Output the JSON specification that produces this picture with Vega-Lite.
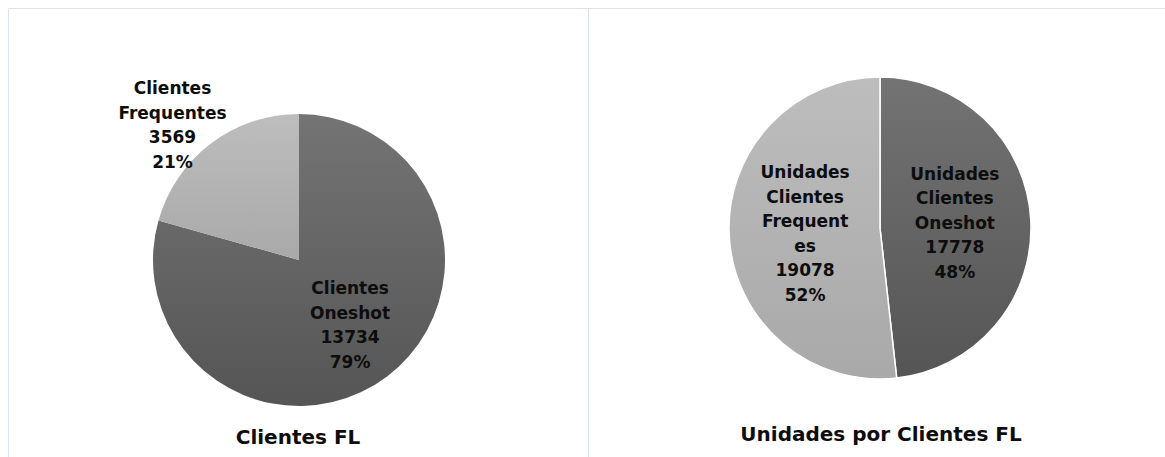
{
  "$schema": "https://vega.github.io/schema/vega-lite/v6.json",
  "padding": {"left": 7, "top": 7, "right": 0, "bottom": 0},
  "spacing": 0,
  "bounds": "flush",
  "background": "white",
  "config": {
    "view": {"stroke": "#dde3ea", "strokeWidth": 1},
    "font": "DejaVu Sans",
    "title": {"font": "DejaVu Sans", "fontWeight": "bold", "fontSize": 20, "color": "#0d0d0d"}
  },
  "datasets": {
    "clientes": [
      {"tipo": "Oneshot", "name": "Clientes\nOneshot", "value": 13734},
      {"tipo": "Frequentes", "name": "Clientes\nFrequentes", "value": 3569}
    ],
    "unidades": [
      {"tipo": "Oneshot", "name": "Unidades\nClientes\nOneshot", "value": 17778},
      {"tipo": "Frequentes", "name": "Unidades\nClientes\nFrequent\nes", "value": 19078}
    ]
  },
  "hconcat": [
    {
      "width": 580,
      "height": 450,
      "view": {"stroke": "#dde3ea", "strokeWidth": 1},
      "title": {"text": "Clientes FL", "orient": "bottom", "offset": -20, "baseline": "middle"},
      "data": {"name": "clientes"},
      "transform": [
        {"joinaggregate": [{"op": "sum", "field": "value", "as": "total"}]},
        {"calculate": "datum.value / datum.total", "as": "pct"},
        {"calculate": "datum.name + '\\n' + datum.value + '\\n' + format(datum.pct, '.0%')", "as": "label"}
      ],
      "encoding": {
        "theta": {"field": "value", "type": "quantitative", "stack": true},
        "order": {"field": "tipo", "sort": "descending"}
      },
      "layer": [
        {
          "mark": {"type": "arc", "outerRadius": 146, "xOffset": 1, "yOffset": 27, "strokeWidth": 0},
          "encoding": {
            "fill": {
              "condition": {
                "test": "datum.tipo === 'Oneshot'",
                "value": {"gradient": "linear", "x1": 0, "y1": 0, "x2": 0, "y2": 1,
                  "stops": [{"offset": 0, "color": "#747474"}, {"offset": 1, "color": "#555555"}]}
              },
              "value": {"gradient": "linear", "x1": 0, "y1": 0, "x2": 0, "y2": 1,
                "stops": [{"offset": 0, "color": "#bdbdbd"}, {"offset": 1, "color": "#a9a9a9"}]}
            }
          }
        },
        {
          "mark": {"type": "text", "radius": 83, "xOffset": 2, "yOffset": 27, "dy": -37, "align": "center", "baseline": "middle",
            "lineBreak": "\n", "lineHeight": 24.5, "fontSize": 17, "fontWeight": "bold", "fill": "#0d0d0d"},
          "encoding": {
            "text": {"condition": {"test": "datum.tipo === 'Oneshot'", "field": "label"}, "value": ""}
          }
        },
        {
          "mark": {"type": "text", "radius": 185, "thetaOffset": -0.105, "xOffset": 1, "yOffset": 27, "dy": -36, "align": "center", "baseline": "middle",
            "lineBreak": "\n", "lineHeight": 24.5, "fontSize": 17, "fontWeight": "bold", "fill": "#0d0d0d"},
          "encoding": {
            "text": {"condition": {"test": "datum.tipo === 'Frequentes'", "field": "label"}, "value": ""}
          }
        }
      ]
    },
    {
      "width": 580,
      "height": 450,
      "view": {"stroke": "#dde3ea", "strokeWidth": 1},
      "title": {"text": "Unidades por Clientes FL", "orient": "bottom", "offset": -23, "baseline": "middle", "dx": 3},
      "data": {"name": "unidades"},
      "transform": [
        {"joinaggregate": [{"op": "sum", "field": "value", "as": "total"}]},
        {"calculate": "datum.value / datum.total", "as": "pct"},
        {"calculate": "datum.name + '\\n' + datum.value + '\\n' + format(datum.pct, '.0%')", "as": "label"}
      ],
      "encoding": {
        "theta": {"field": "value", "type": "quantitative", "stack": true},
        "order": {"field": "tipo", "sort": "descending"}
      },
      "layer": [
        {
          "mark": {"type": "arc", "outerRadius": 151, "xOffset": 2, "yOffset": -5, "stroke": "white", "strokeWidth": 1.5},
          "encoding": {
            "fill": {
              "condition": {
                "test": "datum.tipo === 'Oneshot'",
                "value": {"gradient": "linear", "x1": 0, "y1": 0, "x2": 0, "y2": 1,
                  "stops": [{"offset": 0, "color": "#737373"}, {"offset": 1, "color": "#555555"}]}
              },
              "value": {"gradient": "linear", "x1": 0, "y1": 0, "x2": 0, "y2": 1,
                "stops": [{"offset": 0, "color": "#bdbdbd"}, {"offset": 1, "color": "#a9a9a9"}]}
            }
          }
        },
        {
          "mark": {"type": "text", "radius": 75, "xOffset": 2, "yOffset": -5, "dy": -49, "align": "center", "baseline": "middle",
            "lineBreak": "\n", "lineHeight": 24.5, "fontSize": 17, "fontWeight": "bold", "fill": "#0d0d0d"},
          "encoding": {
            "text": {"condition": {"test": "datum.tipo === 'Oneshot'", "field": "label"}, "value": ""}
          }
        },
        {
          "mark": {"type": "text", "radius": 75, "xOffset": 2, "yOffset": -5, "dy": -59, "align": "center", "baseline": "middle",
            "lineBreak": "\n", "lineHeight": 24.5, "fontSize": 17, "fontWeight": "bold", "fill": "#0d0d0d"},
          "encoding": {
            "text": {"condition": {"test": "datum.tipo === 'Frequentes'", "field": "label"}, "value": ""}
          }
        }
      ]
    }
  ]
}
